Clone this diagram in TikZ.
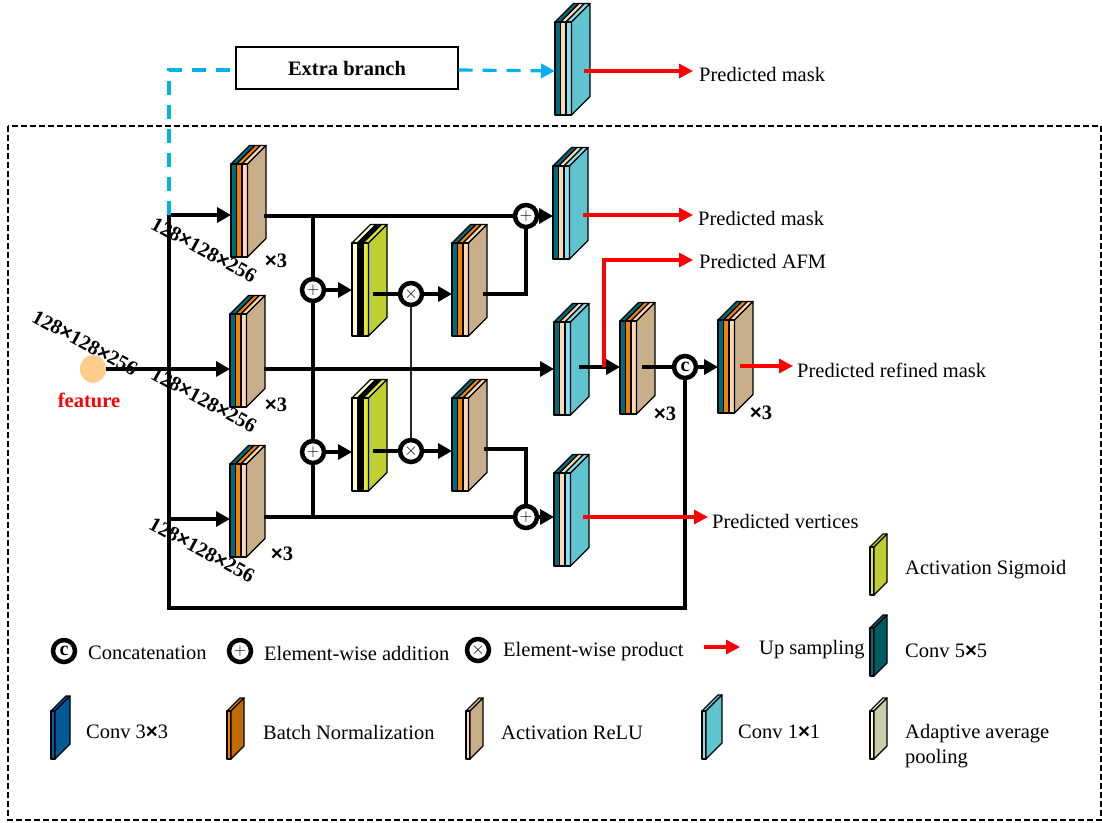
\documentclass[tikz,border=0pt]{standalone}
\usepackage{fontspec}
\setmainfont{Liberation Serif}
\newfontfamily\arl{Liberation Sans}
\newcommand{\mul}{{\arl\bfseries ×}}
\usetikzlibrary{arrows.meta,shapes.geometric}
\definecolor{cTeal}{HTML}{006B7B}
\definecolor{cOrange}{HTML}{F08400}
\definecolor{cCream}{HTML}{FCD9B0}
\definecolor{cTan}{HTML}{C9AE8A}
\definecolor{cCyanL}{HTML}{7FE3F3}
\definecolor{cCyan}{HTML}{5FC4D0}
\definecolor{cPale}{HTML}{FFFFD0}
\definecolor{cYellow}{HTML}{E6E635}
\definecolor{cOlive}{HTML}{BFCE30}
\definecolor{cBlue}{HTML}{0060A8}
\definecolor{cBlueD}{HTML}{005A98}
\definecolor{cBrown}{HTML}{BF6C00}
\definecolor{cDeep}{HTML}{005A64}
\definecolor{cKhaki}{HTML}{CCCCAE}
\definecolor{cSky}{HTML}{00B0F0}
\definecolor{cFeat}{HTML}{FFCC8A}
\tikzset{
 face/.style={draw=black,line width=1.3pt,line join=round},
 wire/.style={draw=black,line width=3.4pt},
 arrowwire/.style={wire,-{Triangle[length=14pt,width=15pt]}},
 thinwire/.style={draw=black!85,line width=2.6pt},
 redwire/.style={draw=red,line width=3.2pt,-{Triangle[length=14pt,width=14pt]}},
 skywire/.style={draw=cSky,line width=3.2pt,dash pattern=on 14pt off 10pt},
 opnode/.style={circle,draw=black,fill=white,line width=4.5pt,minimum size=22pt,inner sep=0pt,font=\fontsize{17}{17}\selectfont},
 lbl/.style={anchor=west,inner sep=0pt,font=\fontsize{20.5}{24}\selectfont},
 dims/.style={inner sep=0pt,rotate=-28.5,font=\bfseries\fontsize{20.5}{20}\selectfont},
 times/.style={inner sep=0pt,font=\bfseries\fontsize{20.5}{20}\selectfont},
}
% one layer: x1 x2 ytop height depth colour
\newcommand{\lay}[6]{%
 \filldraw[face,fill=#6] (#1,#3) -- ++(#5,-#5) -- ({#2+#5},{#3-#5}) -- (#2,#3) -- cycle;
 \filldraw[face,fill=#6] (#1,#3) rectangle (#2,#3+#4);
}
\newcommand{\sideface}[5]{%
 \filldraw[face,fill=#5] (#1,#2) -- ++(#4,-#4) -- ++(0,#3) -- ++(-#4,#4) -- cycle;
}
% triple block: name x ytop wirey outoffset col1 col2 col3 side
\newcommand{\triple}[9]{%
 \lay{#2}{#2+5.5}{#3}{93}{18.5}{#6}
 \lay{#2+5.5}{#2+11}{#3}{93}{18.5}{#7}
 \lay{#2+11}{#2+16.5}{#3}{93}{18.5}{#8}
 \sideface{#2+16.5}{#3}{93}{18.5}{#9}
 \coordinate (#1-in) at (#2,#4);
 \coordinate (#1-out) at (#2+#5,#4);
}
\newcommand{\tanblk}[5]{\triple{#1}{#2}{#3}{#4}{#5}{cTeal}{cOrange}{cCream}{cTan}}
\newcommand{\cyanblk}[5]{\triple{#1}{#2}{#3}{#4}{#5}{cTeal}{cCream}{cCyanL}{cCyan}}
\newcommand{\sigblk}[5]{\triple{#1}{#2}{#3}{#4}{#5}{cPale}{black}{cYellow}{cOlive}}
% legend block: x ytop depth front side
\newcommand{\legblk}[5]{%
 \lay{#1}{#1+4}{#2}{48}{#3}{#4}
 \sideface{#1+4}{#2}{48}{#3}{#5}
}
\begin{document}
\begin{tikzpicture}[x=1pt,y=-1pt]
\useasboundingbox (0,0) rectangle (1102,822);
\draw[black,line width=1.3pt,dash pattern=on 6pt off 3pt] (8,126) rectangle (1101,820);

% blocks
\cyanblk{E}{555}{22}{71}{29}
\tanblk{Aa}{231}{164}{215}{33}
\tanblk{Ab}{230}{314}{369}{34}
\tanblk{Ac}{230}{464}{519}{34}
\sigblk{Sa}{352}{243}{294}{21}
\sigblk{Sb}{352}{398}{451}{21}
\tanblk{Ta}{452}{243}{294}{31}
\tanblk{Tb}{452}{398}{449}{32}
\cyanblk{Ca}{553}{166}{216}{30}
\cyanblk{Cb}{554}{322}{369}{25}
\cyanblk{Cc}{554}{473}{517}{29}
\tanblk{Td}{620}{321}{367}{22}
\tanblk{Te}{718}{320}{367}{22}

% operators
\node[opnode] (pa) at (526,216) {$+$};
\node[opnode] (pb) at (313,290) {$+$};
\node[opnode] (pc) at (313,452) {$+$};
\node[opnode] (pd) at (526,517) {$+$};
\node[opnode] (xa) at (411,294) {$\times$};
\node[opnode] (xb) at (411,451) {$\times$};
\node[opnode,font=\bfseries\fontsize{20}{20}\selectfont] (cc) at (685,367) {c};
\node[ellipse,fill=cFeat,minimum width=26pt,minimum height=28pt,inner sep=0pt] (feat) at (93,369) {};

% helper coordinates
\coordinate (spT) at (169,215);
\coordinate (spC) at (169,519);
\coordinate (spB) at (169,608);
\coordinate (spR) at (685,608);
\coordinate (skyT) at (169,70);
\coordinate (brTop) at (313,216);
\coordinate (brBot) at (313,517);
\coordinate (sumA) at (526,294);
\coordinate (sumB) at (526,449);
\coordinate (afmB) at (604,367);
\coordinate (afmT) at (604,260);

% extra branch
\node[draw=black,line width=1.3pt,fill=white,minimum width=222pt,minimum height=42pt,inner sep=0pt,font=\bfseries\fontsize{20.5}{20}\selectfont] (xb0) at (347,68) {Extra branch};

% black connectors
\draw[wire] (spT) -- (spB) -- (spR) -- (cc.south);
\draw[arrowwire] (spT) -- (Aa-in);
\draw[arrowwire] (spC) -- (Ac-in);
\draw[arrowwire] (feat.east |- Ab-in) -- (Ab-in);
\draw[wire] (Aa-out |- brTop) -- (pa.west);
\draw[arrowwire] (pa.east) -- (Ca-in);
\draw[wire] (brTop) -- (pb.north);
\draw[wire] (pb.south) -- (pc.north);
\draw[wire] (pc.south) -- (brBot);
\draw[arrowwire] (pb.east) -- (Sa-in |- pb);
\draw[arrowwire] (pc.east) -- (Sb-in |- pc);
\draw[wire] (Sa-out) -- (xa.west);
\draw[wire] (Sb-out) -- (xb.west);
\draw[arrowwire] (xa.east) -- (Ta-in);
\draw[arrowwire] (xb.east) -- (Tb-in |- xb);
\draw[thinwire] (xa.south) -- (xb.north);
\draw[wire] (Ta-out) -- (sumA) -- (pa.south);
\draw[wire] (Tb-out) -- (sumB) -- (pd.north);
\draw[wire] (Ac-out |- brBot) -- (pd.west);
\draw[arrowwire] (pd.east) -- (Cc-in |- pd);
\draw[arrowwire] (Ab-out) -- (Cb-in);
\draw[arrowwire] (Cb-out |- Td-in) -- (Td-in);
\draw[wire] (Td-out) -- (cc.west);
\draw[arrowwire] (cc.east) -- (Te-in);

% sky blue branch
\draw[skywire] (spT) -- (skyT) -- (xb0.west |- skyT);
\draw[skywire,-{Triangle[length=14pt,width=14pt]}] (xb0.east |- skyT) -- (E-in);

% red outputs
\node[lbl] (l1) at (699,74) {Predicted mask};
\node[lbl] (l2) at (698,218) {Predicted mask};
\node[lbl] (l3) at (699,261) {Predicted AFM};
\node[lbl] (l4) at (797,370) {Predicted refined mask};
\node[lbl] (l5) at (712,521) {Predicted vertices};
\coordinate (r1) at (693,71);
\coordinate (r2) at (693,215);
\coordinate (r3) at (693,260);
\coordinate (r4) at (793,366);
\coordinate (r5) at (708,517);
\draw[redwire] (E-out) -- (r1);
\draw[redwire] (Ca-out |- r2) -- (r2);
\draw[redwire] (afmB) -- (afmT) -- (r3);
\draw[redwire] (Te-out |- r4) -- (r4);
\draw[redwire] (Cc-out) -- (r5);

% dimension labels
\node[dims] (d0) at (85,343) {128\mul 128\mul 256};
\node[dims] (d1) at (204,250) {128\mul 128\mul 256};
\node[dims] (d2) at (204,400) {128\mul 128\mul 256};
\node[dims] (d3) at (202,550) {128\mul 128\mul 256};
\node[font=\bfseries\fontsize{20.5}{20}\selectfont,text=red,inner sep=0pt] (ftxt) at (89,400) {feature};
\node[times] (t1) at (276,261) {\mul 3};
\node[times] (t2) at (276,405) {\mul 3};
\node[times] (t3) at (282,554) {\mul 3};
\node[times] (t4) at (665,414) {\mul 3};
\node[times] (t5) at (761,413) {\mul 3};

% legend
\node[opnode,font=\bfseries\fontsize{20}{20}\selectfont] (lc) at (64,651) {c};
\node[lbl] (lt1) at (88,653) {Concatenation};
\node[opnode] (lp) at (240,651) {$+$};
\node[lbl] (lt2) at (264,653) {Element-wise addition};
\node[opnode] (lx) at (478,650) {$\times$};
\node[lbl] (lt3) at (503,652) {Element-wise product};
\coordinate (ua) at (704,647);
\coordinate (ub) at (740,647);
\draw[redwire] (ua) -- (ub);
\node[lbl] (lt4) at (759,650) {Up sampling};
\legblk{870}{547}{13}{cYellow}{cOlive}
\node[lbl] (lt5) at (905,570) {Activation Sigmoid};
\legblk{870}{628}{13}{cTeal}{cDeep}
\node[lbl] (lt6) at (905,651) {Conv 5\mul 5};
\legblk{51}{711}{15}{cBlue}{cBlueD}
\node[lbl] (lt7) at (86,732) {Conv 3\mul 3};
\legblk{227}{711}{13}{cOrange}{cBrown}
\node[lbl] (lt8) at (263,732) {Batch Normalization};
\legblk{466}{711}{13}{cCream}{cTan}
\node[lbl] (lt9) at (501,733) {Activation ReLU};
\legblk{702}{711}{16}{cCyanL}{cCyan}
\node[lbl] (lt10) at (738,732) {Conv 1\mul 1};
\legblk{870}{711}{13}{cPale}{cKhaki}
\node[lbl,align=left,anchor=north west,font=\fontsize{20.5}{25}\selectfont] (lt11) at (905,724) {Adaptive average\\pooling};
\end{tikzpicture}
\end{document}
